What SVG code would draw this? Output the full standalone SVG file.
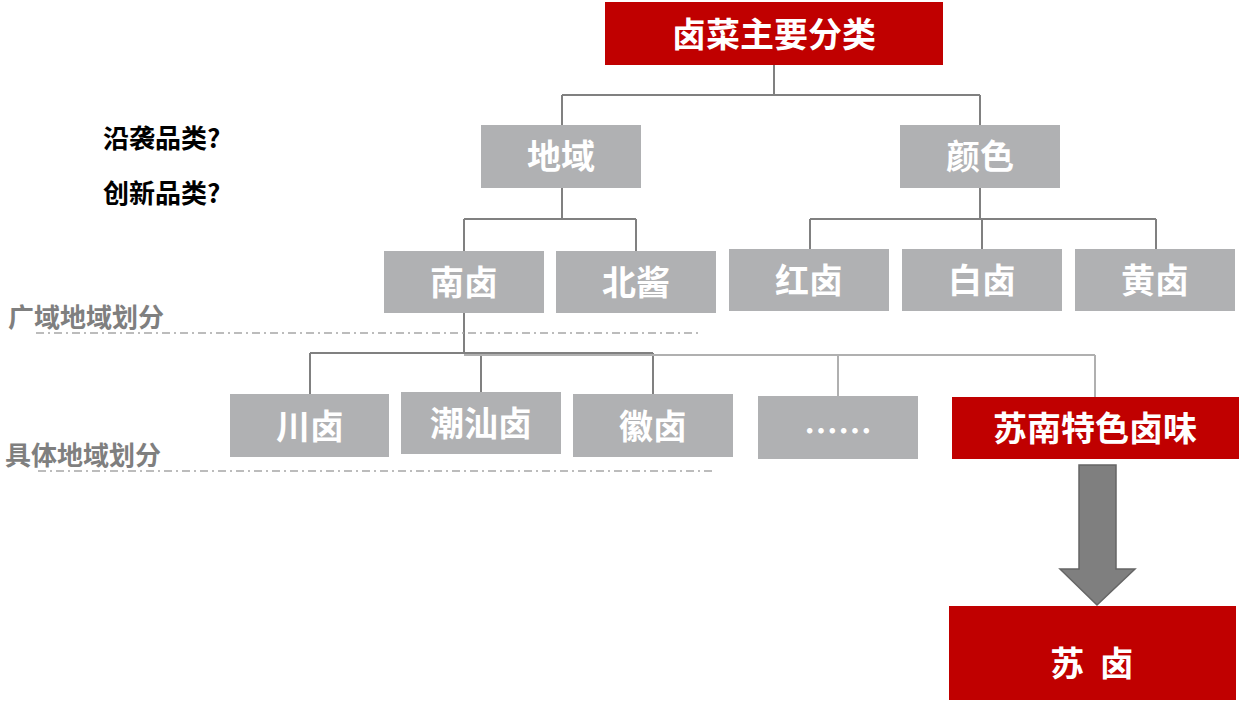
<svg xmlns="http://www.w3.org/2000/svg" width="1242" height="705" viewBox="0 0 1242 705">
<style>
.g{fill:#b0b1b3}
.r{fill:#c00000}
.t{font-family:"Noto Sans CJK SC",sans-serif;font-weight:bold;fill:#fff;text-anchor:middle;font-size:34px}
.l{font-family:"Noto Sans CJK SC",sans-serif;font-weight:bold;font-size:26px}
.c{fill:none;stroke:#808080;stroke-width:2}
.d{fill:none;stroke:#a6a6a6;stroke-width:1.5;stroke-dasharray:8 4 2 4}
</style>
<rect width="1242" height="705" fill="#fff"/>
<g id="connectors">
<path class="c" d="M774 65V95M562 95H980M562 95V125M980 95V125"/>
<path class="c" d="M562 188V219M464 219H636M464 219V251M636 219V251"/>
<path class="c" d="M980 188V219M810 219H1156M810 219V249M982 219V249M1156 219V249"/>
<path class="c" d="M464 313V354M310 353H653M310 353V394M481 353V392M653 353V394"/>
<path fill="none" stroke="#b0b0b0" stroke-width="2" d="M464 355H1095M838 355V396M1095 355V397"/>
<path d="M1079 465H1116V569H1135L1097 605L1060 569H1079Z" fill="#7f7f7f" stroke="#666" stroke-width="1.5"/>
</g>
<g id="labels">
<text class="l" x="103" y="148" fill="#000">沿袭品类?</text>
<text class="l" x="103" y="203" fill="#000">创新品类?</text>
<text class="l" x="8" y="327" fill="#7f7f7f">广域地域划分</text>
<text class="l" x="5" y="465" fill="#7f7f7f">具体地域划分</text>
<path class="d" d="M36 333H700M38 471H715"/>
</g>
<g id="root"><rect class="r" x="605" y="2" width="338" height="63"/><text class="t" x="774" y="47" font-size="36">卤菜主要分类</text></g>
<g id="diyu"><rect class="g" x="481" y="125" width="160" height="63"/><text class="t" x="561" y="169">地域</text></g>
<g id="yanse"><rect class="g" x="900" y="125" width="160" height="63"/><text class="t" x="980" y="169">颜色</text></g>
<g id="nanlu"><rect class="g" x="384" y="251" width="160" height="62"/><text class="t" x="464" y="295">南卤</text></g>
<g id="beijiang"><rect class="g" x="556" y="251" width="160" height="62"/><text class="t" x="636" y="295">北酱</text></g>
<g id="honglu"><rect class="g" x="729" y="249" width="160" height="62"/><text class="t" x="809" y="293">红卤</text></g>
<g id="bailu"><rect class="g" x="902" y="249" width="160" height="62"/><text class="t" x="982" y="293">白卤</text></g>
<g id="huanglu"><rect class="g" x="1075" y="249" width="160" height="62"/><text class="t" x="1155" y="293">黄卤</text></g>
<g id="chuanlu"><rect class="g" x="230" y="394" width="159" height="63"/><text class="t" x="310" y="439">川卤</text></g>
<g id="chaoshan"><rect class="g" x="401" y="392" width="160" height="62"/><text class="t" x="481" y="436">潮汕卤</text></g>
<g id="huilu"><rect class="g" x="573" y="394" width="160" height="63"/><text class="t" x="653" y="439">徽卤</text></g>
<g id="more"><rect class="g" x="758" y="396" width="160" height="63"/><text class="t" x="838" y="444">……</text></g>
<g id="sunan"><rect class="r" x="952" y="397" width="287" height="62"/><text class="t" x="1095" y="441">苏南特色卤味</text></g>
<g id="sulu"><rect class="r" x="949" y="606" width="287" height="94"/><text class="t" x="1092" y="676" font-size="62" xml:space="preserve">苏  卤</text></g>
</svg>
